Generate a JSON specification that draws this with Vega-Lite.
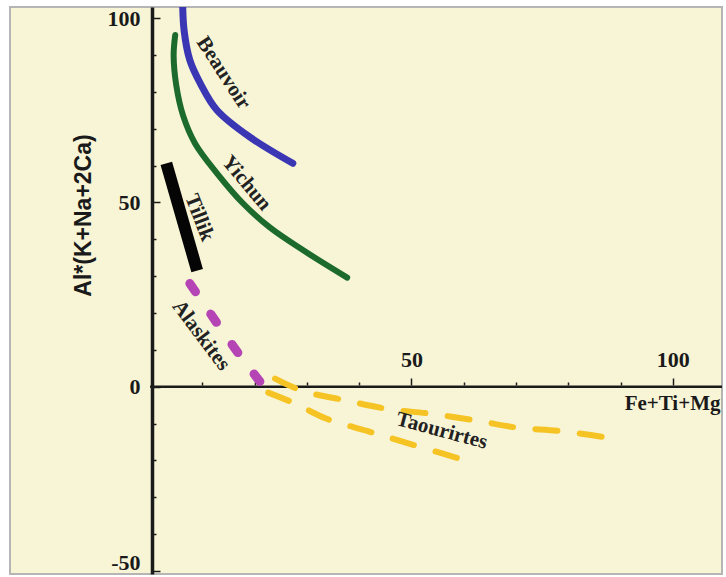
{
  "$schema": "https://vega.github.io/schema/vega-lite/v6.json",
  "autosize": {"type": "none"},
  "width": 712,
  "height": 567,
  "padding": {"left": 10, "top": 7, "right": 4, "bottom": 3},
  "background": "white",
  "config": {
    "view": {"fill": "#f8f5d6", "stroke": "#b5b5b5", "strokeWidth": 2}
  },
  "datasets": {
    "baseline": [
      {"from": 0, "to": 109.4, "level": 0}
    ],
    "curves": [
      {"series": "Beauvoir", "i": 0, "x": 6.2, "y": 106},
      {"series": "Beauvoir", "i": 1, "x": 6.5, "y": 96.7},
      {"series": "Beauvoir", "i": 2, "x": 7.6, "y": 88.6},
      {"series": "Beauvoir", "i": 3, "x": 9.6, "y": 82.3},
      {"series": "Beauvoir", "i": 4, "x": 12.8, "y": 75.0},
      {"series": "Beauvoir", "i": 5, "x": 19.1, "y": 67.7},
      {"series": "Beauvoir", "i": 6, "x": 27.3, "y": 60.6},
      {"series": "Yichun", "i": 0, "x": 4.8, "y": 95.4},
      {"series": "Yichun", "i": 1, "x": 4.5, "y": 89.9},
      {"series": "Yichun", "i": 2, "x": 5.0, "y": 81.8},
      {"series": "Yichun", "i": 3, "x": 6.3, "y": 73.6},
      {"series": "Yichun", "i": 4, "x": 8.6, "y": 66.0},
      {"series": "Yichun", "i": 5, "x": 12.8, "y": 57.9},
      {"series": "Yichun", "i": 6, "x": 17.8, "y": 49.7},
      {"series": "Yichun", "i": 7, "x": 22.9, "y": 43.2},
      {"series": "Yichun", "i": 8, "x": 29.3, "y": 37.0},
      {"series": "Yichun", "i": 9, "x": 37.7, "y": 29.6},
      {"series": "Tillik", "i": 0, "x": 3.1, "y": 60.6},
      {"series": "Tillik", "i": 1, "x": 9.0, "y": 31.5},
      {"series": "Alaskites", "i": 0, "x": 7.6, "y": 28.0},
      {"series": "Alaskites", "i": 1, "x": 10.5, "y": 22.0},
      {"series": "Alaskites", "i": 2, "x": 13.4, "y": 16.0},
      {"series": "Alaskites", "i": 3, "x": 16.1, "y": 10.6},
      {"series": "Alaskites", "i": 4, "x": 18.5, "y": 6.0},
      {"series": "Alaskites", "i": 5, "x": 21.0, "y": 1.4},
      {"series": "TaourirtesA", "i": 0, "x": 23.9, "y": 2.2},
      {"series": "TaourirtesA", "i": 1, "x": 29.1, "y": -1.1},
      {"series": "TaourirtesA", "i": 2, "x": 37.7, "y": -3.8},
      {"series": "TaourirtesA", "i": 3, "x": 45.3, "y": -6.0},
      {"series": "TaourirtesA", "i": 4, "x": 53.5, "y": -7.3},
      {"series": "TaourirtesA", "i": 5, "x": 62.5, "y": -9.2},
      {"series": "TaourirtesA", "i": 6, "x": 70.2, "y": -11.1},
      {"series": "TaourirtesA", "i": 7, "x": 78.4, "y": -12.0},
      {"series": "TaourirtesA", "i": 8, "x": 86.4, "y": -13.6},
      {"series": "TaourirtesB", "i": 0, "x": 22.6, "y": -1.6},
      {"series": "TaourirtesB", "i": 1, "x": 27.3, "y": -4.3},
      {"series": "TaourirtesB", "i": 2, "x": 33.8, "y": -8.7},
      {"series": "TaourirtesB", "i": 3, "x": 41.5, "y": -12.0},
      {"series": "TaourirtesB", "i": 4, "x": 49.7, "y": -15.5},
      {"series": "TaourirtesB", "i": 5, "x": 58.7, "y": -19.3}
    ],
    "labels": [
      {"label": "Beauvoir", "x": 14.0, "y": 85.1},
      {"label": "Yichun", "x": 18.4, "y": 55.2},
      {"label": "Tillik", "x": 9.4, "y": 45.9},
      {"label": "Alaskites", "x": 9.75, "y": 13.9},
      {"label": "Taourirtes", "x": 55.8, "y": -12.0}
    ]
  },
  "encoding": {
    "x": {
      "field": "x", "type": "quantitative",
      "scale": {"domain": [-26.8, 109.4], "nice": false, "zero": false},
      "axis": {
        "orient": "top", "offset": -378, "grid": false, "domain": false,
        "values": [10, 20, 30, 40, 50, 60, 70, 80, 90, 100],
        "tickColor": "#1a1a1a", "tickWidth": 1.5,
        "tickSize": {"condition": {"test": "datum.value % 50 === 0", "value": 7}, "value": 3},
        "labelExpr": "datum.value % 50 === 0 ? '' + datum.value : ''",
        "labelFont": "Liberation Serif", "labelFontSize": 22, "labelFontWeight": "bold",
        "labelColor": "#1a1a1a", "labelPadding": 7, "labelFlush": false,
        "title": "Fe+Ti+Mg", "titleFont": "Liberation Serif", "titleFontSize": 21,
        "titleFontWeight": "bold", "titleColor": "#1a1a1a",
        "titleAnchor": null, "titleAngle": 0,
        "titleX": 710, "titleY": 18, "titleAlign": "right", "titleBaseline": "middle"
      }
    },
    "y": {
      "field": "y", "type": "quantitative",
      "scale": {"domain": [-50.8, 103], "nice": false, "zero": false},
      "axis": {
        "orient": "left", "offset": -142, "grid": false,
        "values": [-50, -40, -30, -20, -10, 0, 10, 20, 30, 40, 50, 60, 70, 80, 90, 100],
        "domainColor": "#1a1a1a", "domainWidth": 3.5,
        "tickColor": "#1a1a1a", "tickWidth": 1.5,
        "tickSize": {"condition": {"test": "datum.value % 50 === 0", "value": -8}, "value": -4},
        "labelExpr": "datum.value % 50 === 0 ? '' + datum.value : ''",
        "labelFont": "Liberation Serif", "labelFontSize": 22, "labelFontWeight": "bold",
        "labelColor": "#1a1a1a", "labelPadding": 20, "labelFlush": false,
        "labelOffset": {"condition": {"test": "datum.value === -50", "value": -9}, "value": 0},
        "title": "Al*(K+Na+2Ca)", "titleFont": "Liberation Sans", "titleFontSize": 23,
        "titleFontWeight": "bold", "titleColor": "#1a1a1a",
        "titleAnchor": null, "titleAngle": -90,
        "titleX": -69, "titleY": 208, "titleAlign": "center", "titleBaseline": "middle"
      }
    }
  },
  "layer": [
    {
      "data": {"name": "baseline"},
      "mark": {"type": "rule", "color": "#1a1a1a", "strokeWidth": 2.5},
      "encoding": {
        "x": {"field": "from", "type": "quantitative"},
        "x2": {"field": "to"},
        "y": {"field": "level", "type": "quantitative"}
      }
    },
    {
      "data": {"name": "curves"},
      "transform": [{"filter": "datum.series === 'Beauvoir'"}],
      "mark": {"type": "line", "color": "#3b36b3", "strokeWidth": 7, "strokeCap": "round", "clip": true, "interpolate": "catmull-rom"},
      "encoding": {"order": {"field": "i", "type": "quantitative"}}
    },
    {
      "data": {"name": "curves"},
      "transform": [{"filter": "datum.series === 'Yichun'"}],
      "mark": {"type": "line", "color": "#1d6b2c", "strokeWidth": 6, "strokeCap": "round", "interpolate": "catmull-rom"},
      "encoding": {"order": {"field": "i", "type": "quantitative"}}
    },
    {
      "data": {"name": "curves"},
      "transform": [{"filter": "datum.series === 'Tillik'"}],
      "mark": {"type": "line", "color": "#050505", "strokeWidth": 12, "strokeCap": "butt"},
      "encoding": {"order": {"field": "i", "type": "quantitative"}}
    },
    {
      "data": {"name": "curves"},
      "transform": [{"filter": "datum.series === 'Alaskites'"}],
      "mark": {"type": "line", "color": "#b545b5", "strokeWidth": 9, "strokeCap": "round", "strokeDash": [10, 27], "interpolate": "catmull-rom"},
      "encoding": {"order": {"field": "i", "type": "quantitative"}}
    },
    {
      "data": {"name": "curves"},
      "transform": [{"filter": "indexof(datum.series, 'Taourirtes') === 0"}],
      "mark": {"type": "line", "color": "#f6c324", "strokeWidth": 6, "strokeCap": "round", "strokeDash": [22, 22.4], "interpolate": "catmull-rom"},
      "encoding": {
        "detail": {"field": "series", "type": "nominal"},
        "order": {"field": "i", "type": "quantitative"}
      }
    },
    {
      "data": {"name": "labels"},
      "transform": [{"filter": "datum.label === 'Beauvoir'"}],
      "mark": {"type": "text", "angle": 57, "font": "Liberation Serif", "fontSize": 21, "fontWeight": "bold", "color": "#222"},
      "encoding": {"text": {"field": "label"}}
    },
    {
      "data": {"name": "labels"},
      "transform": [{"filter": "datum.label === 'Yichun'"}],
      "mark": {"type": "text", "angle": 50, "font": "Liberation Serif", "fontSize": 21, "fontWeight": "bold", "color": "#222"},
      "encoding": {"text": {"field": "label"}}
    },
    {
      "data": {"name": "labels"},
      "transform": [{"filter": "datum.label === 'Tillik'"}],
      "mark": {"type": "text", "angle": 69, "font": "Liberation Serif", "fontSize": 21, "fontWeight": "bold", "color": "#222"},
      "encoding": {"text": {"field": "label"}}
    },
    {
      "data": {"name": "labels"},
      "transform": [{"filter": "datum.label === 'Alaskites'"}],
      "mark": {"type": "text", "angle": 53, "font": "Liberation Serif", "fontSize": 21, "fontWeight": "bold", "color": "#222"},
      "encoding": {"text": {"field": "label"}}
    },
    {
      "data": {"name": "labels"},
      "transform": [{"filter": "datum.label === 'Taourirtes'"}],
      "mark": {"type": "text", "angle": 15, "font": "Liberation Serif", "fontSize": 21, "fontWeight": "bold", "color": "#222"},
      "encoding": {"text": {"field": "label"}}
    }
  ]
}
